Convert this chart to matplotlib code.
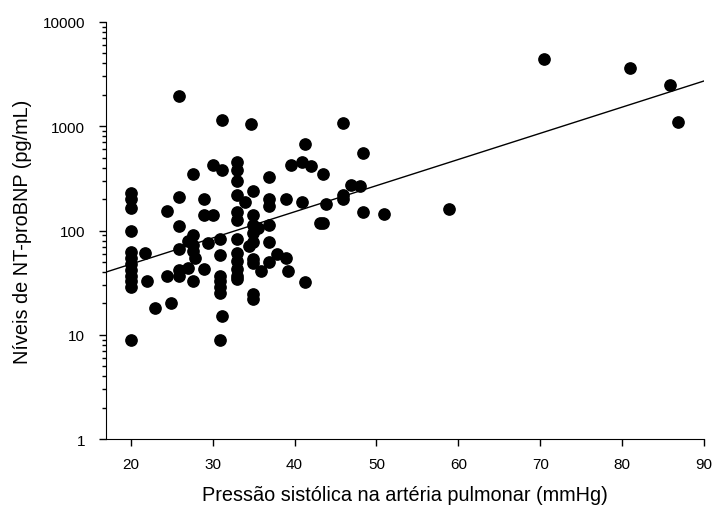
import numpy as np
import matplotlib.pyplot as plt
from matplotlib.ticker import FixedLocator, LogLocator, NullFormatter

plt.rcParams['font.family'] = ['Liberation Sans', 'DejaVu Sans']

# pressão sistólica (mmHg) e NT-proBNP (pg/mL)
psap = [20, 20, 20, 20, 20, 20, 20, 20, 20, 20, 20, 20,
        21.7, 22, 23, 24.9, 24.4, 24.4,
        25.9, 25.9, 25.9, 25.9, 25.9, 25.9,
        27, 27, 27.6, 27.6, 27.6, 27.6, 27.6, 27.9,
        28.9, 28.9, 28.9, 29.4, 30, 30,
        31.1, 31.1, 31.1, 30.9, 30.9, 30.9, 30.9, 30.9, 30.9, 30.9,
        33, 33, 33, 33, 33, 33, 33, 33, 33, 33, 33, 33,
        34, 34.9, 34.9, 34.9, 34.9, 34.9, 34.9, 34.9, 34.9, 34.9, 34.7, 34.5, 35.5,
        35.9, 36.9, 36.9, 36.9, 36.9, 36.9, 36.9,
        37.9, 38.9, 39, 39.2, 39.6, 40.9, 40.9, 41.3, 41.3, 42,
        43.1, 43.5, 43.5, 43.9, 45.9, 45.9, 45.9, 46.9, 48, 48.3, 48.3, 50.9,
        58.9, 70.4, 80.9, 85.8, 86.8]
bnp = [230, 200, 163, 100, 62, 55, 48, 42, 37, 33, 29, 9,
       61, 33, 18, 20, 155, 37,
       1970, 210, 111, 66, 42, 36.5,
       44, 80, 352, 91, 73, 63, 33, 54,
       201, 142, 43, 76, 142, 427,
       1160, 378, 15, 83, 58, 37, 33, 29, 25, 9,
       452, 384, 301, 218, 151, 127, 83, 61, 51, 43, 36.5, 34.5,
       188, 238, 142, 112, 94, 78, 53, 49, 24.5, 22, 1054, 71, 106,
       41, 327, 201, 171, 112, 77, 50,
       60, 201, 55, 41, 427, 452, 187, 683, 32, 413,
       117, 117, 350, 181, 1078, 221, 201, 274, 270, 556, 150, 145,
       161, 4460, 3630, 2470, 1090]

# reta de regressão (extremos)
fit_x = [17, 90]
fit_y = [40, 2720]

fig = plt.figure(figsize=(7.12, 5.10), dpi=100)
ax = fig.add_axes([0.149, 0.137, 0.840, 0.818])

ax.scatter(psap, bnp, s=66, color='black', zorder=3)
ax.plot(fit_x, fit_y, color='black', lw=1)

ax.set_yscale('log')
ax.set_xlim(17, 90)
ax.set_ylim(1, 10000)
ax.xaxis.set_major_locator(FixedLocator([20, 30, 40, 50, 60, 70, 80, 90]))
ax.yaxis.set_major_locator(FixedLocator([1, 10, 100, 1000, 10000]))
ax.yaxis.set_minor_locator(LogLocator(base=10, subs=np.arange(2, 10)))
ax.yaxis.set_minor_formatter(NullFormatter())
ax.set_yticklabels(['1', '10', '100', '1000', '10000'])

ax.spines['top'].set_visible(False)
ax.spines['right'].set_visible(False)
ax.tick_params(axis='both', which='major', length=5, width=1, labelsize=11)
ax.tick_params(axis='x', which='major', pad=8)
ax.tick_params(axis='y', which='major', pad=10)
ax.tick_params(axis='y', which='minor', length=3, width=1)

ax.set_xlabel('Pressão sistólica na artéria pulmonar (mmHg)', fontsize=14.3, labelpad=10)
ax.set_ylabel('Níveis de NT-proBNP (pg/mL)', fontsize=14.3, labelpad=8)

fig.savefig('out.png', dpi=100)
